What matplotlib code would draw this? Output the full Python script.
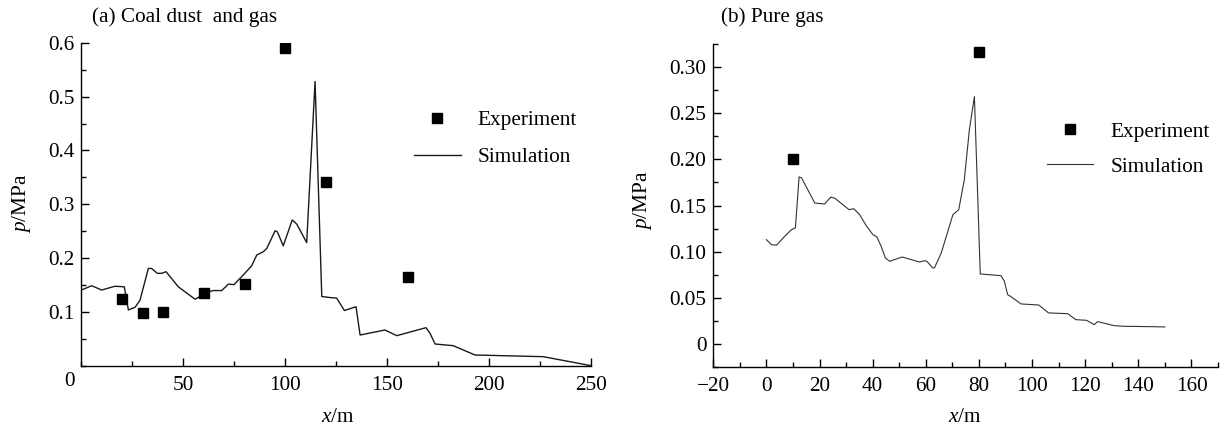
import matplotlib
matplotlib.use("Agg")
import matplotlib.pyplot as plt
from matplotlib.ticker import MultipleLocator

plt.rcParams['font.family'] = ['Liberation Serif', 'DejaVu Serif']
plt.rcParams['mathtext.fontset'] = 'custom'
plt.rcParams['mathtext.rm'] = 'Liberation Serif'
plt.rcParams['mathtext.it'] = 'Liberation Serif:italic'
plt.rcParams['axes.unicode_minus'] = True

FS = 15.3

# ---------------- data: (a) Coal dust and gas ----------------
a_exp_x = [20, 30, 40, 60, 80, 100, 120, 160]
a_exp_p = [0.125, 0.098, 0.101, 0.136, 0.152, 0.591, 0.342, 0.165]

a_sim_x = [0, 5, 9.9, 16.4, 21, 23, 26.3, 28.7, 32.8, 34.4, 37.2, 39.3, 41.5,
           47.5, 55.7, 57.3, 59.8, 64.7, 68.8, 72.1, 74.8, 79.4, 83.5, 86,
           89.2, 90.9, 95, 96.1, 99, 103.4, 105.6, 110.5, 114.6, 117.9, 121.9,
           125.2, 129, 134.7, 136.7, 148.9, 154.7, 169, 171, 173.5, 182.4,
           193.1, 226.6, 249.5]
a_sim_p = [0.141, 0.149, 0.141, 0.148, 0.147, 0.104, 0.109, 0.122, 0.181, 0.181,
           0.172, 0.172, 0.175, 0.147, 0.124, 0.127, 0.135, 0.140, 0.140, 0.152,
           0.151, 0.169, 0.186, 0.206, 0.212, 0.218, 0.251, 0.249, 0.223, 0.271,
           0.2635, 0.229, 0.528, 0.129, 0.127, 0.126, 0.103, 0.110, 0.0575,
           0.0668, 0.0563, 0.0711, 0.0607, 0.0408, 0.0377, 0.0204, 0.0173, 0.001]

# ---------------- data: (b) Pure gas ----------------
b_exp_x = [10, 80]
b_exp_p = [0.200, 0.316]

b_sim_x = [0, 1.9, 3.8, 6.9, 9.4, 10.9, 12.3, 13.2, 18.2, 21.9, 24.2, 25.7, 31.1,
           32.9, 35.1, 37.6, 40.1, 41.6, 43.2, 44.8, 46.4, 51.1, 57.6, 59.5,
           60.4, 62.6, 63.3, 65.8, 68.3, 70.2, 72.4, 74.5, 76.4, 78.3, 80.5,
           88.3, 89.6, 90.8, 91.5, 95.9, 102.5, 106.2, 113.4, 116.5, 120.5,
           123.4, 124.7, 130.9, 134.7, 145.3, 150]
b_sim_p = [0.113, 0.1075, 0.107, 0.1166, 0.1238, 0.1256, 0.181, 0.180, 0.1527,
           0.1516, 0.159, 0.158, 0.1455, 0.1465, 0.140, 0.128, 0.1184, 0.1159,
           0.1057, 0.0931, 0.0895, 0.0942, 0.0888, 0.0902, 0.0895, 0.0823,
           0.0826, 0.0985, 0.122, 0.140, 0.1455, 0.178, 0.232, 0.268, 0.0758,
           0.074, 0.0678, 0.0534, 0.0523, 0.0433, 0.0422, 0.0336, 0.0328,
           0.0263, 0.0256, 0.0209, 0.0242, 0.0198, 0.0191, 0.0187, 0.0184]

a_xticks = [50, 100, 150, 200, 250]
a_yticks = [0.1, 0.2, 0.3, 0.4, 0.5, 0.6]
a_yticklabels = ['0.1', '0.2', '0.3', '0.4', '0.5', '0.6']
b_xticks = [-20, 0, 20, 40, 60, 80, 100, 120, 140, 160]
b_yticks = [0, 0.05, 0.10, 0.15, 0.20, 0.25, 0.30]
b_yticklabels = ['0', '0.05', '0.10', '0.15', '0.20', '0.25', '0.30']

W, H = 1226, 429
fig = plt.figure(figsize=(W / 100, H / 100), dpi=100)


def px_box(x0, y0, x1, y1):
    return [x0 / W, 1 - y1 / H, (x1 - x0) / W, (y1 - y0) / H]


ax1 = fig.add_axes(px_box(81.5, 42.7, 591, 366))
ax2 = fig.add_axes(px_box(713.3, 44, 1218, 367))

LC = '#1a1a1a'
for ax in (ax1, ax2):
    ax.spines['top'].set_visible(False)
    ax.spines['right'].set_visible(False)
    for s in ('left', 'bottom'):
        ax.spines[s].set_linewidth(1.0)
        ax.spines[s].set_color('black')
    ax.tick_params(which='major', direction='in', length=6, width=1.0,
                   labelsize=FS, pad=5, colors='black')
    ax.tick_params(which='minor', direction='in', length=3.5, width=1.0)
    ax.tick_params(axis='x', which='major', pad=7)

# (a)
ax1.plot(a_sim_x, a_sim_p, '-', color=LC, lw=1.0, label='Simulation')
ax1.plot(a_exp_x, a_exp_p, 's', color='black', ms=6.5, label='Experiment')
ax1.set_xlim(0, 250)
ax1.set_ylim(0, 0.6)
ax1.set_xticks(a_xticks)
ax1.set_yticks(a_yticks)
ax1.set_yticklabels(a_yticklabels)
ax1.xaxis.set_minor_locator(MultipleLocator(25))
ax1.yaxis.set_minor_locator(MultipleLocator(0.05))
ax1.annotate('0', xy=(0, 0), xycoords='data', xytext=(-8.5, -4),
             textcoords='offset points', ha='center', va='top', fontsize=FS)

# (b)
ax2.plot(b_sim_x, b_sim_p, '-', color='#333333', lw=0.8, label='Simulation')
ax2.plot(b_exp_x, b_exp_p, 's', color='black', ms=6.5, label='Experiment')
ax2.set_xlim(-20, 170)
ax2.set_ylim(-0.025, 0.325)
ax2.set_xticks(b_xticks)
ax2.set_yticks(b_yticks)
ax2.set_yticklabels(b_yticklabels)
ax2.xaxis.set_minor_locator(MultipleLocator(10))
ax2.yaxis.set_minor_locator(MultipleLocator(0.025))


def add_legend(ax, x_left, y_top, spacing):
    h, l = ax.get_legend_handles_labels()
    order = [1, 0]
    leg = ax.legend([h[i] for i in order], [l[i] for i in order],
                    loc='upper left', bbox_to_anchor=(x_left / W, 1 - y_top / H),
                    bbox_transform=fig.transFigure, frameon=False,
                    fontsize=FS, borderpad=0, borderaxespad=0,
                    handlelength=2.2, handletextpad=0.8, labelspacing=spacing,
                    numpoints=1)
    return leg


add_legend(ax1, 414, 110.5, 0.79)
add_legend(ax2, 1046.7, 121.8, 0.72)

# titles
fig.text(92 / W, 1 - 17 / H, '(a) Coal dust  and gas', fontsize=FS,
         ha='left', va='center')
fig.text(721 / W, 1 - 17 / H, '(b) Pure gas', fontsize=FS,
         ha='left', va='center')

# axis labels
fig.text(22 / W, 1 - 203 / H, r'$p$/MPa', fontsize=FS, rotation=90,
         ha='center', va='center')
fig.text(643 / W, 1 - 200 / H, r'$p$/MPa', fontsize=FS, rotation=90,
         ha='center', va='center')
fig.text(338 / W, 1 - 417 / H, r'$x$/m', fontsize=FS, ha='center', va='center')
fig.text(965 / W, 1 - 418 / H, r'$x$/m', fontsize=FS, ha='center', va='center')

fig.savefig('out.png', dpi=100)
